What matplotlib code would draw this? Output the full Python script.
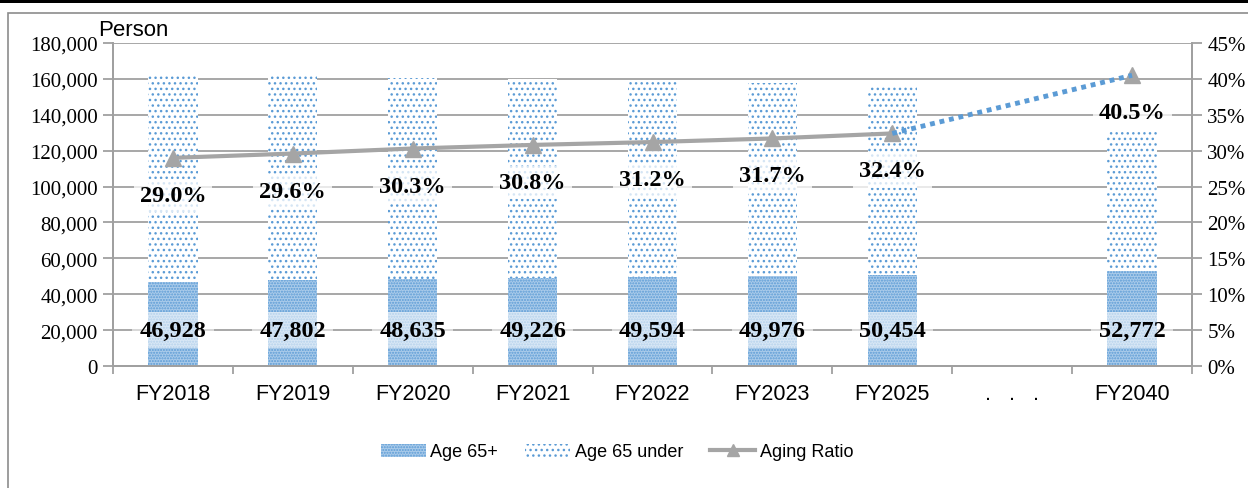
import numpy as np
import matplotlib.pyplot as plt
from matplotlib.patches import Rectangle
from matplotlib.ticker import FuncFormatter, FixedLocator

years = ['FY2018', 'FY2019', 'FY2020', 'FY2021', 'FY2022', 'FY2023', 'FY2025', '.   .   .', 'FY2040']
age65_plus = [46928, 47802, 48635, 49226, 49594, 49976, 50454, np.nan, 52772]
age65_under = [114900, 113700, 111900, 110600, 109400, 107700, 105300, np.nan, 77500]
aging_ratio = [29.0, 29.6, 30.3, 30.8, 31.2, 31.7, 32.4, np.nan, 40.5]

blue = '#5B9BD5'
gray = '#A5A5A5'
grid_gray = '#A0A0A0'

plt.rcParams['hatch.color'] = blue
plt.rcParams['hatch.linewidth'] = 1.0

fig = plt.figure(figsize=(12.48, 4.89), dpi=100)
ax = fig.add_axes([113 / 1248, 1 - 367 / 489, (1192 - 113) / 1248, (367 - 44) / 489])
ax2 = ax.twinx()

x = np.arange(len(years))
plus = np.array(age65_plus)
under = np.array(age65_under)
ax.bar(x, plus, width=0.41, color='#AACBEA', edgecolor=blue, hatch='......', linewidth=0, zorder=2)
ax.bar(x, under, width=0.41, bottom=plus, color='white', edgecolor=blue, hatch='...', linewidth=0, zorder=2)

ax.set_xlim(-0.5, len(years) - 0.5)
ax.set_ylim(0, 180000)
ax.set_yticks(np.arange(0, 180001, 20000))
ax.yaxis.set_major_formatter(FuncFormatter(lambda v, p: f'{v:,.0f}'))
ax.grid(axis='y', color=grid_gray, linewidth=1.3, zorder=0)
ax.set_axisbelow(True)
ax.set_xticks(x)
ax.set_xticklabels(years, fontsize=15.5, family='Liberation Sans')
ax.xaxis.set_minor_locator(FixedLocator(np.arange(-0.5, len(years), 1)))
ax.tick_params(axis='x', which='major', length=0, pad=12)
ax.tick_params(axis='x', which='minor', length=6, color=grid_gray, width=1.3)
ax.tick_params(axis='y', length=7, color=grid_gray, width=1.3, labelsize=15, pad=4)
for lab in ax.get_yticklabels():
    lab.set_family('Liberation Serif')

for s in ['top']:
    ax.spines[s].set_visible(False)
    ax2.spines[s].set_visible(False)
for s in ['left', 'right', 'bottom']:
    ax.spines[s].set_color(grid_gray)
    ax.spines[s].set_linewidth(1.3)
    ax2.spines[s].set_color(grid_gray)
    ax2.spines[s].set_linewidth(1.3)

ax2.set_ylim(0, 45)
ax2.set_yticks(np.arange(0, 46, 5))
ax2.yaxis.set_major_formatter(FuncFormatter(lambda v, p: f'{v:.0f}%'))
ax2.tick_params(axis='y', length=7, color=grid_gray, width=1.3, labelsize=15, pad=4)
for lab in ax2.get_yticklabels():
    lab.set_family('Liberation Serif')

ratio = np.array(aging_ratio)
solid = [i for i in range(7)]
ax2.plot(x[solid], ratio[solid], color=gray, linewidth=3, zorder=3)
ax2.plot([x[6], x[8]], [ratio[6], ratio[8]], color=blue, linewidth=3.5, linestyle=(0, (1, 1)), zorder=4)
valid = ~np.isnan(ratio)
ax2.plot(x[valid], ratio[valid], linestyle='none', marker='^', markersize=11, color=gray, zorder=3)

box = dict(boxstyle='square,pad=0.25', facecolor='white', edgecolor='none', alpha=0.75)
for i in range(len(years)):
    if np.isnan(ratio[i]):
        continue
    ax2.annotate(f'{ratio[i]:.1f}%', (x[i], ratio[i]), xytext=(0, -27), textcoords='offset points',
                 ha='center', va='center', fontsize=17.5, fontweight='bold', family='Liberation Serif',
                 bbox=box, zorder=5)
    ax.text(x[i], 20000, f'{int(plus[i]):,}', ha='center', va='center', fontsize=17.5,
            fontweight='bold', family='Liberation Serif', zorder=5,
            bbox=dict(boxstyle='square,pad=0.3', facecolor='white', edgecolor='none', alpha=0.55))

fig.text(98 / 1248, 1 - 31 / 489, 'Person', fontsize=16, family='Liberation Sans', va='center', ha='left')

h1 = Rectangle((0, 0), 1, 1, facecolor='#AACBEA', edgecolor=blue, hatch='......', linewidth=0)
h2 = Rectangle((0, 0), 1, 1, facecolor='white', edgecolor=blue, hatch='...', linewidth=0)
h3, = ax.plot([], [], color=gray, linewidth=3, marker='^', markersize=9)
fig.legend([h1, h2, h3], ['Age 65+', 'Age 65 under', 'Aging Ratio'], loc='center',
           bbox_to_anchor=(617 / 1248, 1 - 453 / 489), ncol=3, frameon=False,
           prop={'family': 'Liberation Sans', 'size': 13}, handlelength=2.5, handleheight=0.75,
           columnspacing=1.5, handletextpad=0.25)

fig.patches.append(Rectangle((0, 1 - 4 / 489), 1, 4 / 489, transform=fig.transFigure,
                             facecolor='black', edgecolor='none'))
fig.patches.append(Rectangle((8 / 1248, -0.1), 1.2, 1.1 - 14 / 489, transform=fig.transFigure,
                             facecolor='none', edgecolor='#8C8C8C', linewidth=1.2))

fig.savefig('out.png', dpi=100)
